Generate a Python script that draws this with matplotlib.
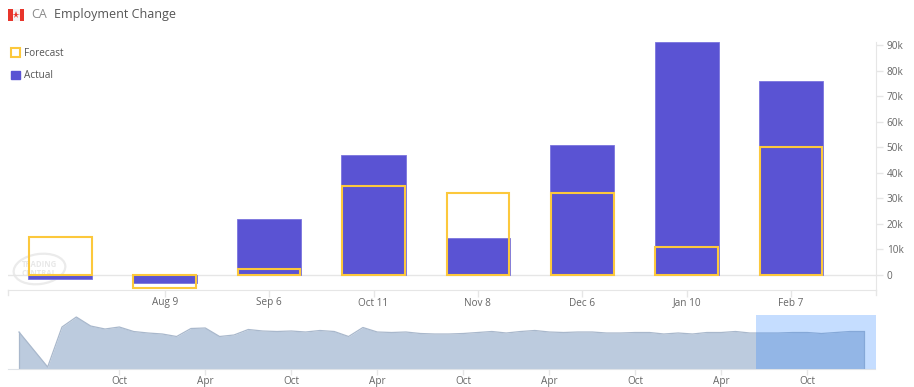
import numpy as np
from matplotlib import pyplot as plt
from matplotlib.patches import Ellipse, Patch, Rectangle

plt.rcParams["font.family"] = ["Open Sans", "DejaVu Sans"]

# main chart, values in thousands
dates = ["", "Aug 9", "Sep 6", "Oct 11", "Nov 8", "Dec 6", "Jan 10", "Feb 7"]
actual = [-1.5, -3, 22, 47, 14.5, 51, 91, 76]
forecast = [15, -5, 2.5, 35, 32, 32, 11, 50]
y_ticks = [0, 10, 20, 30, 40, 50, 60, 70, 80, 90]
y_labels = ["0", "10k", "20k", "30k", "40k", "50k", "60k", "70k", "80k", "90k"]

# navigator, monthly values read as height above the baseline
history = [37, 19.5, 2, 42, 52, 43, 40, 42, 37.5, 36, 35, 32.5, 40.5, 41, 32.5, 34, 39.5,
           38, 37.5, 38, 37, 38.5, 37.5, 32.5, 41.5, 37, 36.5, 37, 35.5, 35,
           35, 35.5, 36.5, 37.5, 36, 37.5, 38.5, 37, 36.5, 37, 37, 36, 36, 36.5,
           36.5, 35, 36, 35, 36.5, 36.5, 37.5, 36, 36, 36, 36.5, 36.5, 35.5, 36.5,
           37.5, 37.5]
history_ticks = [7, 13, 19, 25, 31, 37, 43, 49, 55]
history_labels = ["Oct", "Apr", "Oct", "Apr", "Oct", "Apr", "Oct", "Apr", "Oct"]

W, H = 914, 387
AXIS = "#e6e6e6"
TEXT = "#666666"
FS = 7.2


def px_axes(fig, left, top, right, bottom):
    return fig.add_axes([left / W, 1 - bottom / H, (right - left) / W, (bottom - top) / H])


fig = plt.figure(figsize=(W / 100, H / 100), dpi=100)

# pixel overlay for header and watermark
bg = fig.add_axes([0, 0, 1, 1], zorder=0)
bg.set_xlim(0, W)
bg.set_ylim(H, 0)
bg.axis("off")
bg.add_patch(Rectangle((8, 9), 16, 11.5, color="#f4f4f4", lw=0))
bg.add_patch(Rectangle((8, 9), 4.5, 11.5, color="#e8352b", lw=0))
bg.add_patch(Rectangle((19.5, 9), 4.5, 11.5, color="#e8352b", lw=0))
bg.plot([16], [14.5], marker="*", ms=5.5, color="#e8352b", mew=0)
bg.text(31, 14.5, "CA", fontsize=9, color="#8a8a8a", va="center")
bg.text(54, 14.5, "Employment Change", fontsize=9, color="#555555", va="center")
bg.add_patch(Ellipse((39.5, 269), 52, 30, angle=-8, fill=False, ec="#ebebeb", lw=1.6))
bg.text(39, 269, "TRADING\nCENTRAL", fontsize=5.6, color="#e8e8e8", ha="center", va="center",
        weight="bold", linespacing=1.05)

# main chart
ax = px_axes(fig, 8, 42, 875.5, 290)
ax.set_zorder(1)
ax.patch.set_visible(False)
x = np.arange(len(dates))
ax.axhline(0, color=AXIS, lw=1, zorder=1)
ax.bar(x, actual, width=0.615, color="#5a53d3", edgecolor="#7a74de", lw=0.6, zorder=2, label="Actual")
ax.bar(x, forecast, width=0.6, fill=False, edgecolor="#fcc83c", lw=1.5, zorder=3, label="Forecast")
ax.set_xlim((8 - 60.3) / 104.4, (875.5 - 60.3) / 104.4)
ax.set_ylim((275 - 290) / 2.556, (275 - 42) / 2.556)
ax.set_xticks(x[1:], dates[1:])
ax.yaxis.tick_right()
ax.set_yticks(y_ticks, y_labels)
ax.tick_params(axis="both", color=AXIS, labelcolor=TEXT, labelsize=FS, length=5, width=1)
ax.tick_params(axis="x", pad=0.4)
ax.tick_params(axis="y", pad=3)
for s in ["top", "left"]:
    ax.spines[s].set_visible(False)
for s in ["right", "bottom"]:
    ax.spines[s].set_color(AXIS)
ax.plot([0, 0], [0, -5 / 248], transform=ax.transAxes, color=AXIS, lw=1, clip_on=False)
ax.plot([1, 1], [0, -5 / 248], transform=ax.transAxes, color=AXIS, lw=1, clip_on=False)
ax.legend(handles=[Patch(fill=False, edgecolor="#fcc83c", lw=1.5, label="Forecast"),
                   Patch(color="#5a53d3", label="Actual")],
          loc="upper left", bbox_to_anchor=(11 / W, 1 - 48 / H), bbox_transform=fig.transFigure,
          frameon=False, fontsize=FS, handlelength=0.9, handleheight=0.9, handletextpad=0.4,
          labelspacing=1.15, borderpad=0, borderaxespad=0, labelcolor="#555555")

# navigator
nav = px_axes(fig, 8, 315, 875.5, 369)
nav.set_zorder(1)
nav.patch.set_visible(False)
months = np.arange(len(history))
nav.fill_between(months, history, 0, color="#bccbde", lw=0, zorder=1)
nav.plot(months, history, color="#a9b8cc", lw=0.9, zorder=2)
nav.plot([0, 0], [0, history[0]], color="#a9b8cc", lw=0.9, zorder=2)
nav.plot([months[-1], months[-1]], [0, history[-1]], color="#a9b8cc", lw=0.9, zorder=2)
nav.set_xlim((8 - 19) / 14.33, (875.5 - 19) / 14.33)
nav.set_ylim(0, 54)
nav.axvspan((756 - 19) / 14.33, (875.5 - 19) / 14.33, color="#1b7bff", alpha=0.25, lw=0, zorder=3)
nav.set_xticks(history_ticks, history_labels)
nav.set_yticks([])
nav.tick_params(axis="x", color=AXIS, labelcolor=TEXT, labelsize=FS, length=4, width=1, pad=1.2)
for s in ["top", "left", "right"]:
    nav.spines[s].set_visible(False)
nav.spines["bottom"].set_color("#dfe3e8")

plt.savefig("out.png", dpi=100)
